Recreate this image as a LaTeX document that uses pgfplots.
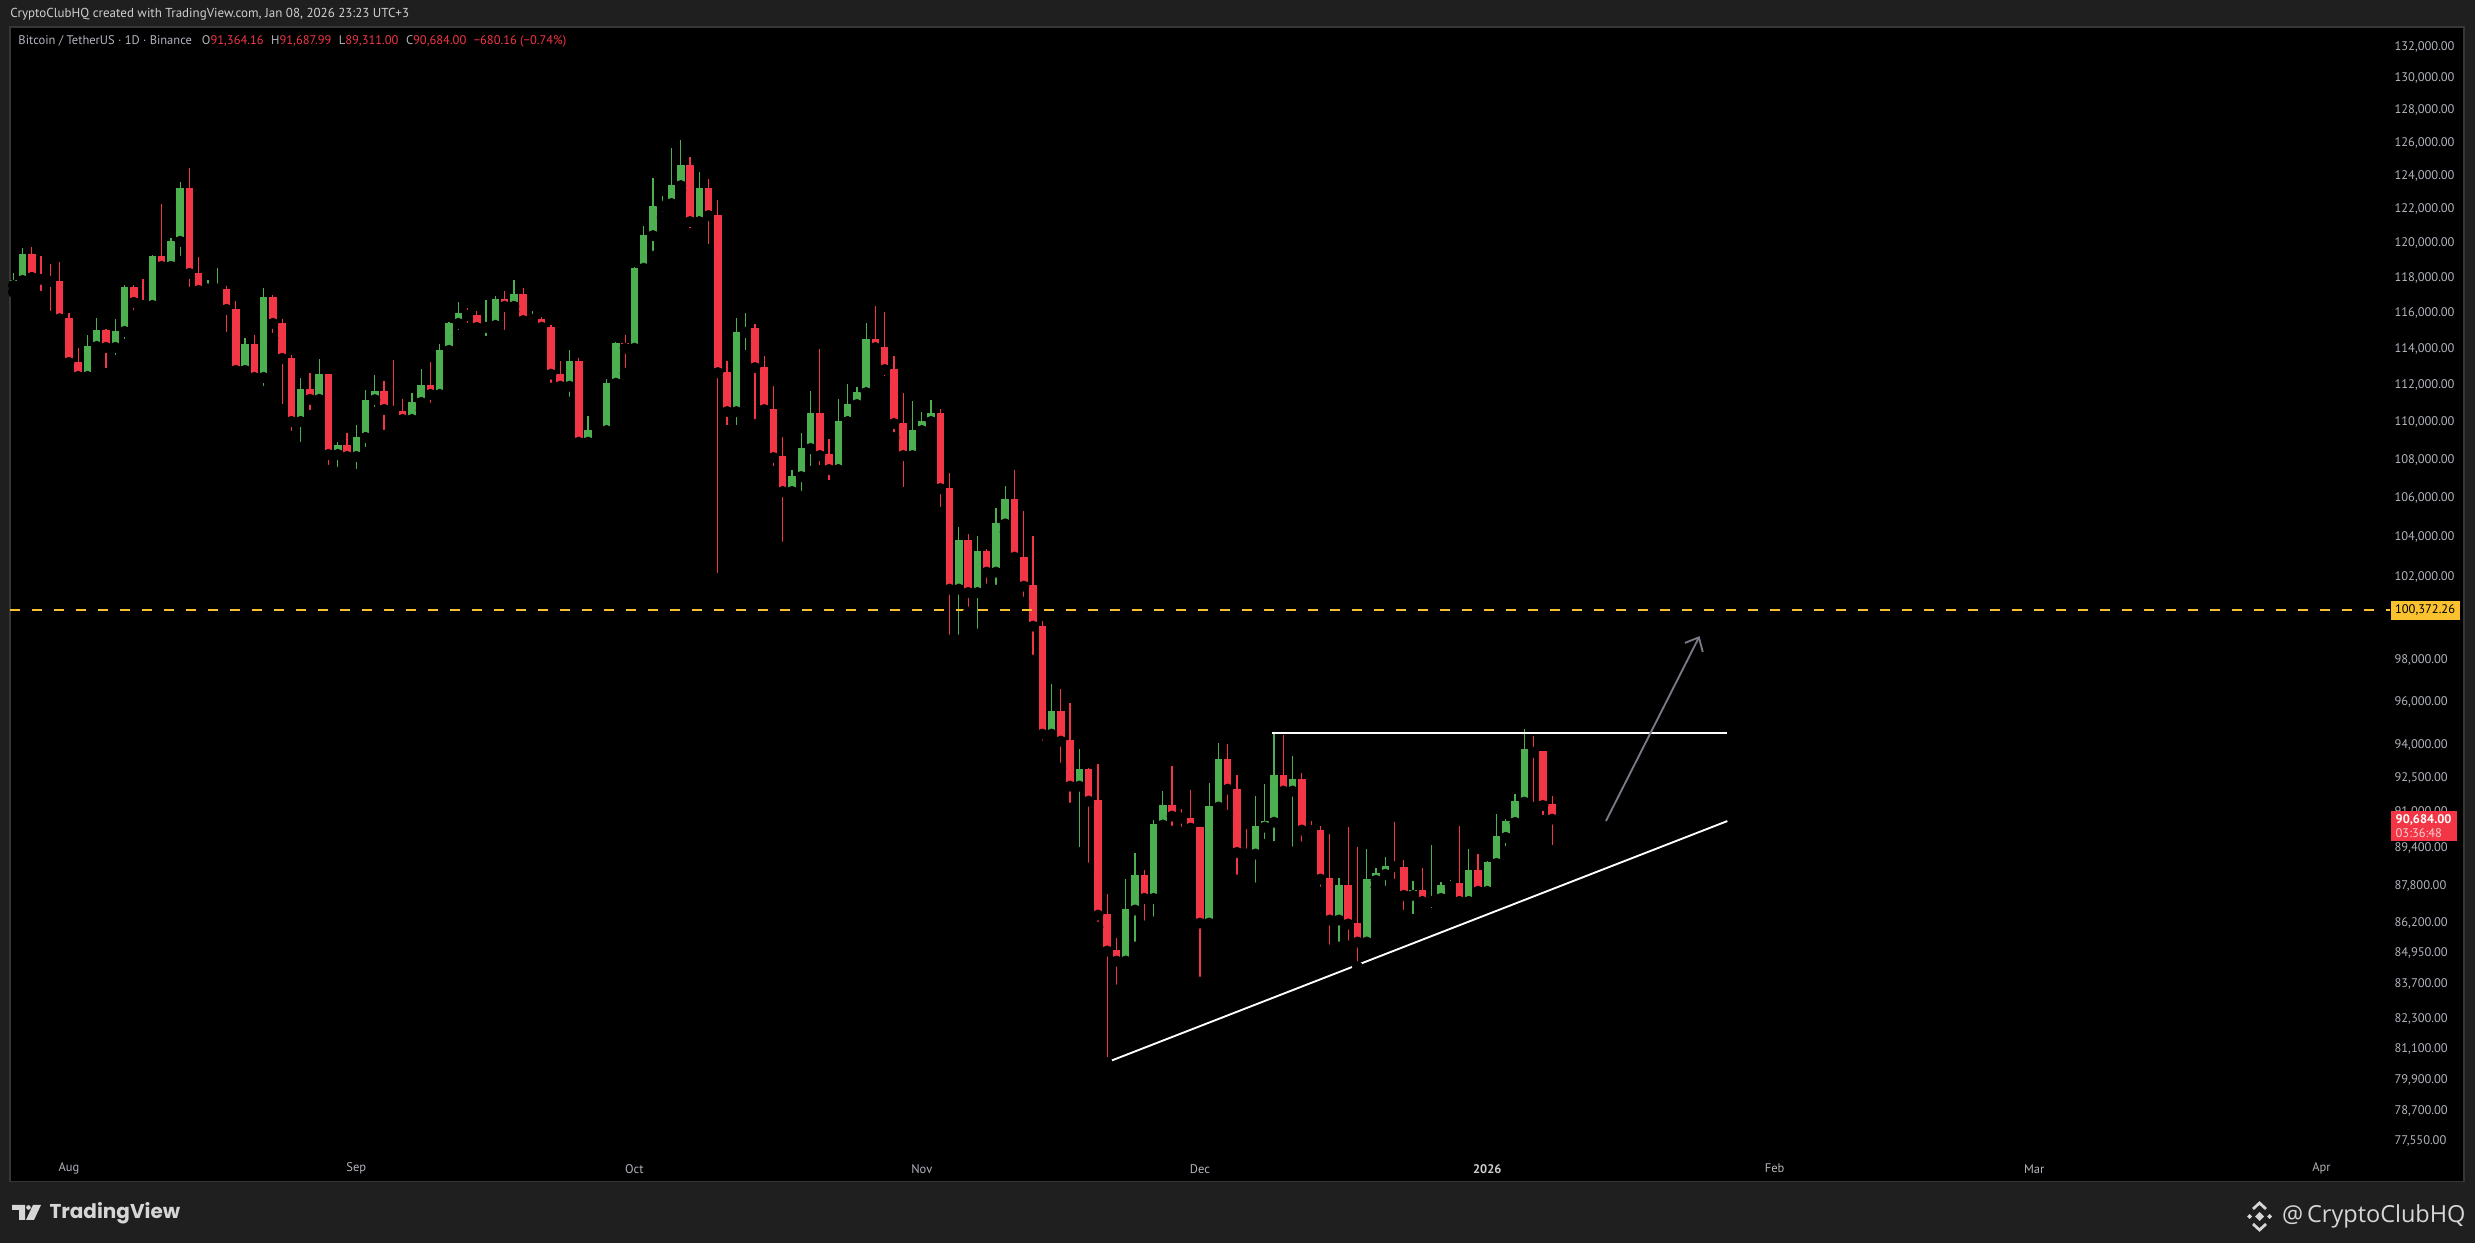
\documentclass[border=0pt]{standalone}
\usepackage{pgfplots}
\pgfplotsset{compat=1.18}
\usepackage{pgfplotstable}
\usepackage{fontspec}
\setmainfont{PT Sans}
\newfontfamily\poppins{Poppins}
\newfontfamily\opensans{Open Sans}
\usetikzlibrary{arrows.meta}
\definecolor{tvbg}{HTML}{1F1F1F}
\definecolor{tvborder}{HTML}{363636}
\definecolor{tvgreen}{HTML}{4CAF50}
\definecolor{tvred}{HTML}{F23645}
\definecolor{tvtext}{HTML}{B2B5BE}
\definecolor{tvhead}{HTML}{CFCFCF}
\definecolor{tvyellow}{HTML}{F9C22E}
\definecolor{tvarrow}{HTML}{787B86}
\definecolor{tvlogo}{HTML}{D6D6D6}
\definecolor{tvpink}{HTML}{FAD0D4}
\pgfplotstableread{
k O H L C
0 117557 118260 117160 117880
1 117842 119730 117700 119380
2 119380 119790 117444 118013
3 118051 119270 116930 117900
4 117938 118800 115797 117785
5 117823 118920 115516 115666
6 115722 116003 112685 113234
7 113271 114045 111974 112465
8 112465 114766 111920 114156
9 114119 115722 114050 115045
10 115045 115100 112631 114063
11 114063 115666 113345 114989
12 114952 117595 114230 117480
13 117480 117595 115853 116589
14 116627 117938 116306 116419
15 116419 119310 116380 119270
16 119270 122320 118070 118650
17 118650 120315 118185 120140
18 120100 123640 118940 123275
19 123275 124485 117160 118240
20 118280 119210 116815 117270
21 117350 117880 117160 117400
22 117350 118570 117160 117420
23 117366 117537 114620 116190
24 116228 116684 112740 112794
25 112794 114600 112356 114268
26 114268 114766 112028 112410
27 112410 117423 111650 116910
28 116910 117025 114563 115404
29 115441 115666 110673 113455
30 113492 113657 109229 110030
31 110030 112356 108646 111756
32 111756 112631 110352 111215
33 111215 113437 110834 112576
34 112576 112612 107437 108277
35 108277 108910 107333 108786
36 108786 109424 108067 108172
37 108172 109850 107229 109211
38 109176 111738 108383 111197
39 111197 112558 110512 111684
40 111684 112193 109282 110673
41 110709 113382 110190 110566
42 110602 111251 109976 110137
43 110137 111576 110100 111090
44 111054 112887 110620 112010
45 112010 113271 110727 111486
46 111486 114268 110888 113934
47 113897 115480 113400 115441
48 115404 116627 114730 116003
49 116003 116287 115119 115853
50 115890 116117 115119 115175
51 115175 116740 114398 115330
52 115292 116967 114730 116796
53 116796 117252 114730 116362
54 116362 117880 116080 117080
55 117088 117430 115056 115561
56 115620 116124 115393 115655
57 115672 115767 115150 115187
58 115224 115337 111822 112585
59 112622 113281 111441 111930
60 111930 113943 111063 113281
61 113281 113502 108606 108924
62 108924 110292 108606 109598
63 109640 109705 109030 109580
64 109545 112347 109190 112129
65 112093 114388 111549 114277
66 114277 114776 112640 114017
67 114017 118635 113960 118577
68 118540 121023 118310 120494
69 120435 123880 119232 122206
70 122166 122800 121500 122385
71 122325 125700 122147 123460
72 123400 126190 123100 124666
73 124666 125150 120553 121258
74 121258 124190 121080 123279
75 123279 123780 119620 121612
76 121670 122562 101956 112677
77 112730 113281 109545 110561
78 110561 115730 109545 114944
79 114890 115958 113607 115168
80 115168 115393 109864 112949
81 113004 113607 110130 110667
82 110720 111964 107383 108115
83 108168 109220 103502 106344
84 106344 107486 106292 107172
85 107120 109438 106087 108641
86 108589 111694 107383 110506
87 110506 113998 107436 108220
88 108273 109116 106651 107486
89 107486 111258 107440 110077
90 110025 112072 109651 110991
91 110937 111911 110667 111640
92 111586 115448 111258 114555
93 114555 116407 113832 114053
94 114108 116068 112180 112841
95 112895 113607 109167 109917
96 109970 111585 106292 108220
97 108220 111150 108180 109598
98 109545 110561 109380 110077
99 110025 111204 109438 110506
100 110506 110720 105262 106497
101 106530 107278 98927 101410
102 101410 104499 98927 103840
103 103840 104144 100283 101247
104 101247 104044 99216 103287
105 103287 103400 101410 102254
106 102254 105468 101360 104703
107 104680 106653 104262 105981
108 105981 107486 102452 103002
109 103020 105314 100771 101558
110 101600 104044 97970 99603
111 99630 99830 93958 94508
112 94508 96819 94450 95557
113 95557 96584 92958 94186
114 94240 95963 91168 92148
115 92148 93806 89214 92898
116 92898 92950 88548 91479
117 91510 93124 86046 86548
118 86580 87424 80554 85047
119 85070 85573 83449 84634
120 84634 88064 84600 86789
121 86760 89183 85213 88235
122 88235 88450 86088 87254
123 87254 90625 86255 90449
124 90420 91926 90067 91289
125 91289 93034 90155 90815
126 90840 91110 90111 90726
127 90750 91957 90260 90285
128 90315 90350 83774 86213
129 86213 92270 86130 91245
130 91215 94080 90933 93395
131 93395 94035 90845 92014
132 92040 92630 88035 89227
133 89270 90231 88849 89153
134 89153 91690 87693 90361
135 90330 92225 89574 90578
136 90545 94554 89474 92630
137 92630 94447 91524 91926
138 91926 93486 89239 92450
139 92450 92720 89458 90200
140 90230 90581 89720 90180
141 90200 90400 87522 88078
142 88100 90011 85089 86338
143 86338 88107 85213 87807
144 87807 90318 85254 86171
145 86199 89444 84399 85420
146 85420 89357 85047 88063
147 88020 88537 87730 88320
148 88280 89012 87553 88621
149 88640 90537 87851 88605
150 88590 88880 86534 87381
151 87381 87980 86366 87594
152 87594 88537 86872 87126
153 87126 89530 86619 87295
154 87253 87935 87210 87807
155 87765 88020 87381 87892
156 87892 90362 86745 87126
157 87126 89357 86788 88449
158 88449 89141 87210 87553
159 87553 88850 87500 88794
160 88750 90890 88320 89923
161 89880 90675 89270 90581
162 90535 91777 90500 91466
163 91436 94724 91400 93808
164 93808 94403 91200 93671
165 93717 93750 90624 91288
166 91364.16 91687.99 89311 90684
}\ohlc
\begin{document}
\begin{tikzpicture}[x=0.4pt,y=0.4pt]
\useasboundingbox (0,0) rectangle (2475,1243);
\fill[tvbg] (0,0) rectangle (2475,1243);
\begin{axis}[
  at={(4pt,24.4pt)}, anchor=south west,
  width=981.6pt, height=461.88pt, scale only axis,
  xmin=-0.356, xmax=264.37,
  ymode=log, ymin=76039, ymax=133296,
  axis background/.style={fill=black},
  axis line style={draw=tvborder, line width=0.6pt},
  tick style={draw=none},
  major tick length=0pt,
  xtick={6,37,67,98,128,159,190,218,249},
  xticklabels={Aug,Sep,Oct,Nov,Dec,{\bfseries\color{tvhead}2026},Feb,Mar,Apr},
  xticklabel style={anchor=center, yshift=5.2pt, inner sep=0pt,
    font=\fontsize{5}{6}\selectfont, text=tvtext},
  ytick={77550,78700,79900,81100,82300,83700,84950,86200,87800,89400,91000,92500,94000,96000,98000,102000,104000,106000,108000,110000,112000,114000,116000,118000,120000,122000,124000,126000,128000,130000,132000},
  yticklabels={{77,550.00},{78,700.00},{79,900.00},{81,100.00},{82,300.00},{83,700.00},{84,950.00},{86,200.00},{87,800.00},{89,400.00},{91,000.00},{92,500.00},{94,000.00},{96,000.00},{98,000.00},{102,000.00},{104,000.00},{106,000.00},{108,000.00},{110,000.00},{112,000.00},{114,000.00},{116,000.00},{118,000.00},{120,000.00},{122,000.00},{124,000.00},{126,000.00},{128,000.00},{130,000.00},{132,000.00}},
  yticklabel pos=right,
  yticklabel style={anchor=west, xshift=-28pt, inner sep=0pt,
    font=\fontsize{5}{6}\selectfont, text=tvtext},
]
% green wicks and bodies
\addplot[only marks, mark=none, forget plot,
  restrict expr to domain={\thisrow{C}-\thisrow{O}}{0:1000000},
  error bars/.cd, y dir=plus, y explicit, error mark=none,
  error bar style={draw=tvgreen, line width=0.5pt}]
  table[x=k, y=L, y error plus expr=\thisrow{H}-\thisrow{L}] {\ohlc};
\addplot[only marks, mark=none, forget plot,
  restrict expr to domain={\thisrow{C}-\thisrow{O}}{0:1000000},
  error bars/.cd, y dir=plus, y explicit, error mark=none,
  error bar style={draw=tvgreen, line width=3.0pt}]
  table[x=k, y=O, y error plus expr=\thisrow{C}-\thisrow{O}] {\ohlc};
% red wicks and bodies
\addplot[only marks, mark=none, forget plot,
  restrict expr to domain={\thisrow{C}-\thisrow{O}}{-1000000:-0.001},
  error bars/.cd, y dir=plus, y explicit, error mark=none,
  error bar style={draw=tvred, line width=0.5pt}]
  table[x=k, y=L, y error plus expr=\thisrow{H}-\thisrow{L}] {\ohlc};
\addplot[only marks, mark=none, forget plot,
  restrict expr to domain={\thisrow{C}-\thisrow{O}}{-1000000:-0.001},
  error bars/.cd, y dir=plus, y explicit, error mark=none,
  error bar style={draw=tvred, line width=3.0pt}]
  table[x=k, y=C, y error plus expr=\thisrow{O}-\thisrow{C}] {\ohlc};
% level line
\addplot[tvyellow, line width=0.7pt, dash pattern=on 4pt off 4.8pt] coordinates {(-0.36,100372.26) (256.4,100372.26)};
% drawings
\addplot[white, line width=0.75pt] coordinates {(135.8,94554) (184.9,94554)};
\addplot[white, line width=0.75pt] coordinates {(117.9,80554) (184.9,90594)};
\addplot[tvarrow, line width=0.75pt, -{Straight Barb[length=4.5pt,width=8pt]}] coordinates {(171.8,90594) (181.9,99120)};
% price boxes
\node[fill=tvyellow, anchor=north west, inner xsep=1.6pt, inner ysep=0pt,
  minimum width=27.6pt, minimum height=7.6pt, text=black,
  font=\fontsize{5}{6}\selectfont] at (axis cs:256.39,100855) {100,372.26};
\node[fill=tvred, anchor=north west, inner xsep=1.6pt, inner ysep=0.6pt,
  minimum width=26.4pt, minimum height=12pt, text=white, align=left,
  font=\fontsize{5}{5.6}\selectfont] at (axis cs:256.39,91068) {\bfseries 90,684.00\\{\color{tvpink}03:36:48}};
\end{axis}
% header
\node[anchor=west, inner sep=0pt, font=\fontsize{5.2}{6}\selectfont, text=tvhead] at (10,1229)
  {CryptoClubHQ created with TradingView.com, Jan 08, 2026 23:23 UTC+3};
\node[anchor=west, inner sep=0pt, font=\fontsize{5}{6}\selectfont, text=tvtext] at (18,1202)
  {Bitcoin / TetherUS · 1D · Binance\hspace{4pt}O\textcolor{tvred}{91,364.16}\hspace{3pt}H\textcolor{tvred}{91,687.99}\hspace{3pt}L\textcolor{tvred}{89,311.00}\hspace{3pt}C\textcolor{tvred}{90,684.00}\hspace{3pt}\textcolor{tvred}{−680.16 (−0.74\%)}};
% TradingView logo
\fill[tvlogo] (12,38) -- (25,38) -- (25,23) -- (19,23) -- (19,33) -- (12,33) -- cycle;
\fill[tvlogo] (28.5,35.5) circle (2.3);
\fill[tvlogo] (33,38) -- (41,38) -- (34,23) -- (26,23) -- cycle;
\node[anchor=west, inner sep=0pt, font=\poppins\bfseries\fontsize{8}{9}\selectfont, text=tvlogo] at (49,30) {TradingView};
% Binance logo
\fill[tvlogo] (2259.5,31) -- (2264,26.5) -- (2259.5,22) -- (2255,26.5) -- cycle;
\fill[tvlogo] (2249.5,29) -- (2252,26.5) -- (2249.5,24) -- (2247,26.5) -- cycle;
\fill[tvlogo] (2269.5,29) -- (2272,26.5) -- (2269.5,24) -- (2267,26.5) -- cycle;
\draw[tvlogo, line width=1.1pt] (2253,34) -- (2259.5,40) -- (2266,34);
\draw[tvlogo, line width=1.1pt] (2253,19) -- (2259.5,13) -- (2266,19);
\node[anchor=east, inner sep=0pt, font=\opensans\fontsize{9.4}{11}\selectfont, text=tvlogo] at (2466,27) {@\,CryptoClubHQ};
\end{tikzpicture}
\end{document}
